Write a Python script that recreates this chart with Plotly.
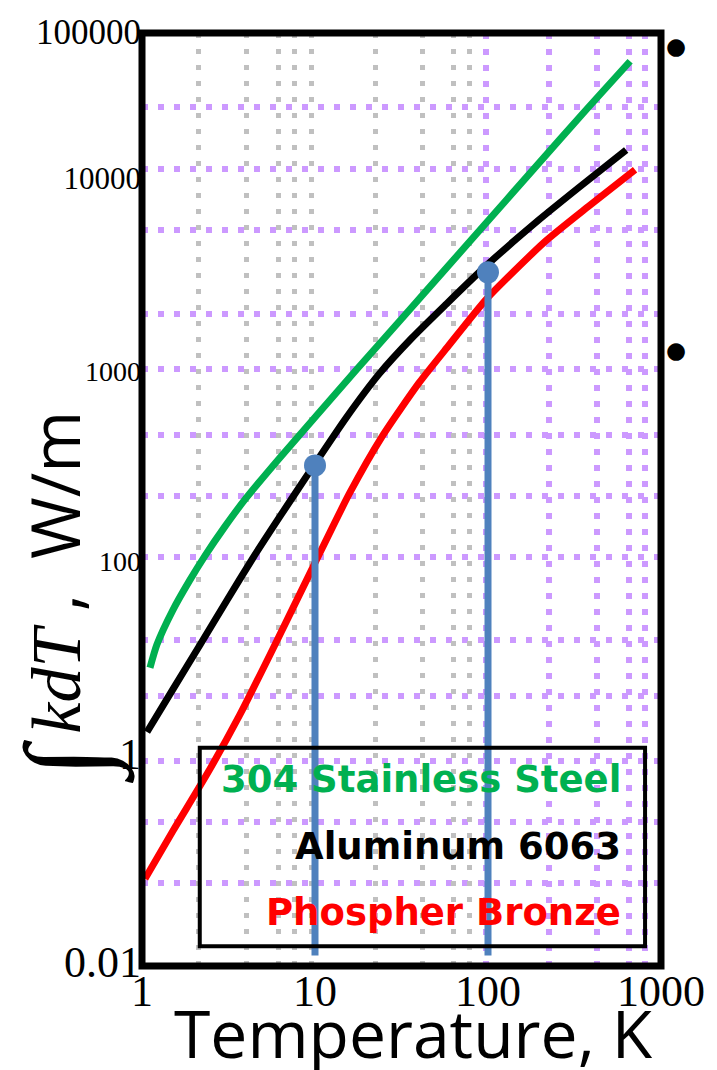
import numpy as np
import plotly.graph_objects as go

# ---------------- data ----------------
T_SS = [1.112, 1.22, 1.508, 1.89, 2.306, 3.006, 3.971, 6.23, 17.5, 33.6, 89.5, 183, 375, 663]
K_SS = [1.73, 2.58, 4.68, 7.85, 11.9, 19.7, 32.1, 64.6, 301, 783, 3311, 9484, 27160, 61380]

T_AL = [1.069, 1.508, 2.158, 3.087, 4.356, 6.23, 9.65, 15.15, 23.5, 36.3, 57.0, 97.0, 196, 333, 629]
K_AL = [0.570, 1.19, 2.55, 5.50, 11.4, 23.3, 54.8, 130, 277, 515, 918, 1782, 3945, 6887, 13270]

T_PB = [1.041, 1.508, 2.367, 3.667, 5.68, 9.65, 15.76, 24.4, 39.9, 59.4, 98.2, 215, 380, 708]
K_PB = [0.0452, 0.103, 0.273, 0.762, 2.36, 9.62, 34.8, 93.8, 237, 454, 1014, 2742, 4990, 9400]

SERIES_NAMES = ["304 Stainless Steel", "Aluminum 6063", "Phospher Bronze"]

BLUE_X = [10, 100]
BLUE_TOP = [57, 1600]
BLUE_BOTTOM = 0.012

DOT_X = [1219, 1219]
DOT_Y = [71000, 369]

X_RANGE = [1, 1000]
Y_RANGE = [0.01, 100000]
X_TICK_VALS = [1, 10, 100, 1000]
X_TICK_TEXT = ["1", "10", "100", "1000"]
Y_TICK_VALS = [100000, 8065, 296, 11.0, 0.359, 0.01]
Y_TICK_TEXT = ["100000", "10000", "1000", "100", "1", "0.01"]
Y_TICK_SIZE = [35, 31, 28, 28, 44, 44]

GRID_X_GRAY = [2.13, 4.02, 6.15, 7.60, 9.52, 22.3, 42.0, 63.4, 78.4]
GRID_X_PURPLE = [97.0, 226, 428, 654, 809, 1000]
GRID_Y_PURPLE = [27700, 9570, 3310, 785, 301, 97, 33.6, 11.8, 2.80, 1.07, 0.347, 0.120, 0.0422]

X_TITLE = "Temperature, K"
Y_TITLE_INT = "\u222b"
Y_TITLE_REST = "<i>kdT</i>"
Y_TITLE_UNIT = " ,\u00a0 W/m"

# ---------------- styles ----------------
GREEN = "#00B050"
RED = "#FF0000"
BLACK = "#000000"
BLUE = "#4F81BD"
PURPLE = "#CC99FF"
GRAY = "#C0C0C0"
SERIF = "Liberation Serif"
SANS = "Open Sans"

xr = list(np.log10(X_RANGE))
yr = list(np.log10(Y_RANGE))

fig = go.Figure()

# dummy traces so the overlay grid axes exist
for xa, ya in [("x2", "y"), ("x3", "y"), ("x", "y2")]:
    fig.add_trace(go.Scatter(x=[10], y=[1], xaxis=xa, yaxis=ya, mode="markers",
                             marker=dict(opacity=0), hoverinfo="skip", showlegend=False))

for tx, ky, col, name in [(T_SS, K_SS, GREEN, SERIES_NAMES[0]),
                          (T_AL, K_AL, BLACK, SERIES_NAMES[1]),
                          (T_PB, K_PB, RED, SERIES_NAMES[2])]:
    fig.add_trace(go.Scatter(x=tx, y=ky, mode="lines", name=name,
                             line=dict(color=col, width=7, shape="spline", smoothing=0.6),
                             showlegend=False))

for bx, bt in zip(BLUE_X, BLUE_TOP):
    fig.add_trace(go.Scatter(x=[bx, bx], y=[BLUE_BOTTOM, bt], mode="lines",
                             line=dict(color=BLUE, width=7), showlegend=False))
fig.add_trace(go.Scatter(x=BLUE_X, y=BLUE_TOP, mode="markers",
                         marker=dict(color=BLUE, size=22), showlegend=False))

y_tick_text = [f"<span style='font-size:{s}px'>{t}</span>" for t, s in zip(Y_TICK_TEXT, Y_TICK_SIZE)]

grid_common = dict(type="log", showticklabels=False, ticks="", showline=False, zeroline=False)

fig.update_layout(
    width=717, height=1070,
    margin=dict(l=142, r=54, t=25, b=104),
    paper_bgcolor="white", plot_bgcolor="white",
    showlegend=False,
    xaxis=dict(type="log", range=xr, tickvals=X_TICK_VALS, ticktext=X_TICK_TEXT,
               showgrid=False, zeroline=False, showline=False, ticks="",
               ticklabelstandoff=-5,
               tickfont=dict(family=SERIF, size=44, color=BLACK)),
    xaxis2=dict(overlaying="x", anchor="y", range=xr, tickvals=GRID_X_GRAY, showgrid=True,
                gridcolor=GRAY, gridwidth=5, griddash="5px,11px", **grid_common),
    xaxis3=dict(overlaying="x", anchor="y", range=xr, tickvals=GRID_X_PURPLE, showgrid=True,
                gridcolor=PURPLE, gridwidth=6, griddash="6px,10px", **grid_common),
    yaxis=dict(type="log", range=yr, tickvals=Y_TICK_VALS, ticktext=y_tick_text,
               showgrid=False, zeroline=False, showline=False, ticks="",
               tickfont=dict(family=SERIF, size=30, color=BLACK)),
    yaxis2=dict(overlaying="y", anchor="x", range=yr, tickvals=GRID_Y_PURPLE, showgrid=True,
                gridcolor=PURPLE, gridwidth=6, griddash="6px,10px", **grid_common),
)

# plot frame
fig.add_shape(type="rect", xref="paper", yref="paper", x0=0, x1=1, y0=0, y1=1,
              line=dict(color=BLACK, width=7), layer="above")
# legend box
fig.add_shape(type="rect", xref="paper", yref="paper", x0=0.1113, x1=0.9693, y0=0.0213, y1=0.2338,
              line=dict(color=BLACK, width=4), layer="above")

# stray bullet dots right of the frame, positioned from the log-axis ranges
for dx, dy in zip(DOT_X, DOT_Y):
    px = (np.log10(dx) - xr[0]) / (xr[1] - xr[0])
    py = (np.log10(dy) - yr[0]) / (yr[1] - yr[0])
    fig.add_annotation(text="\u25cf", x=px, y=py, xref="paper", yref="paper",
                       showarrow=False, xanchor="center", yanchor="middle", yshift=7,
                       font=dict(family="DejaVu Sans", size=23, color=BLACK))

for name, col, yp in zip(SERIES_NAMES, [GREEN, BLACK, RED], [0.1998, 0.1286, 0.0574]):
    fig.add_annotation(text=f"<b>{name}</b>", xref="paper", yref="paper", x=0.927, y=yp,
                       xanchor="right", yanchor="middle", showarrow=False,
                       font=dict(family="DejaVu Sans", size=37, color=col))

fig.add_annotation(text=X_TITLE, xref="paper", yref="paper", x=0.524, y=-0.0705,
                   xanchor="center", yanchor="middle", showarrow=False,
                   font=dict(family=SANS, size=66, color=BLACK))

# y-axis title: large integral sign + kdT + units
fig.add_annotation(text=Y_TITLE_INT, xref="paper", yref="paper", x=-0.142, y=0.22,
                   xanchor="center", yanchor="middle", textangle=-90, showarrow=False,
                   font=dict(family=SERIF, size=114, color=BLACK))
fig.add_annotation(
    text=(f"<span style='font-family:Liberation Serif;font-size:70px'>{Y_TITLE_REST}</span>"
          f"{Y_TITLE_UNIT}"),
    xref="paper", yref="paper", x=-0.169, y=0.4219, xanchor="center", yanchor="middle",
    textangle=-90, showarrow=False, font=dict(family=SANS, size=67, color=BLACK))

fig.write_html("out.html")
